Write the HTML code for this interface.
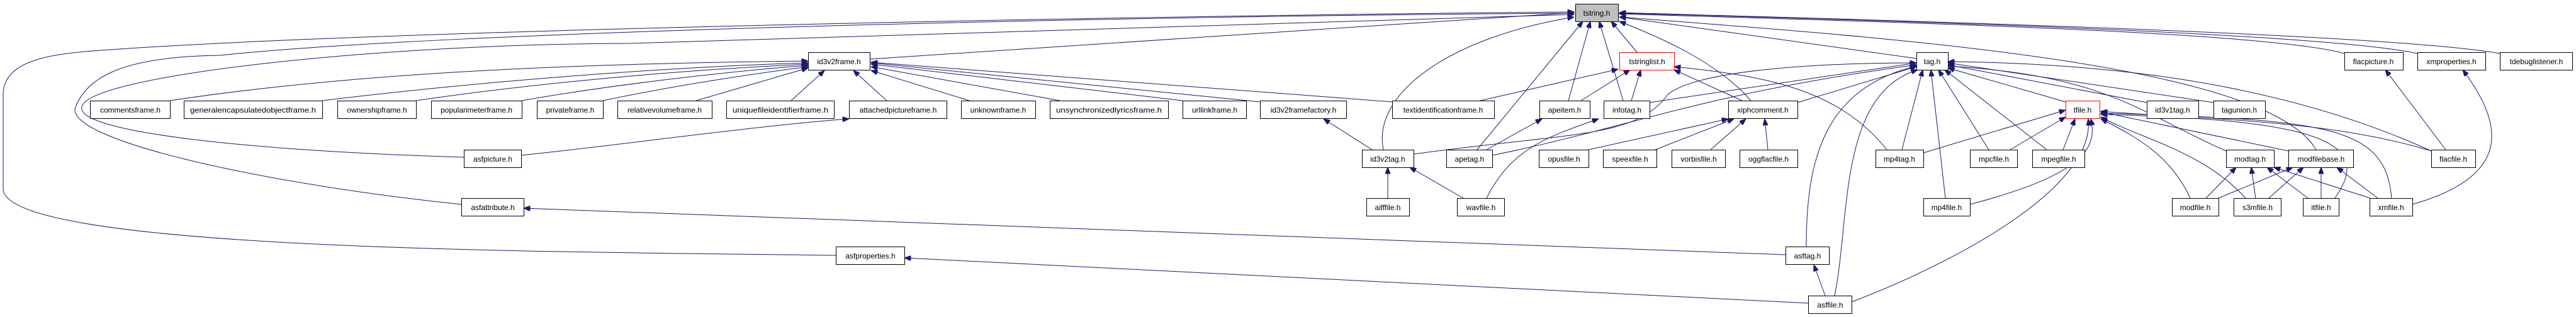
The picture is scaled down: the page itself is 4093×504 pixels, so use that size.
<!DOCTYPE html>
<html><head><meta charset="utf-8"><style>
html,body{margin:0;padding:0;background:#fff}
svg{display:block}
text{font-family:"Liberation Sans",sans-serif;font-size:12px;fill:#000}
</style></head><body>
<svg width="4093" height="504" viewBox="0 0 4093 504" xmlns="http://www.w3.org/2000/svg">
<defs>
<marker id="a" viewBox="0 0 10 8" refX="10" refY="4" markerWidth="11" markerHeight="8" markerUnits="userSpaceOnUse" orient="auto">
<path d="M0,0 L10,4 L0,8 z" fill="#191970" stroke="#191970"/>
</marker>
</defs>
<g fill="none" stroke="#191970" stroke-width="1" marker-end="url(#a)">
<path d="M270,160 C600,110 1000,100 1284,97"/>
<path d="M512,160 C800,125 1100,105 1284,100"/>
<path d="M661,160 C900,125 1150,108 1284,102"/>
<path d="M829,160 C1000,130 1200,110 1284,104"/>
<path d="M958,160 C1100,130 1240,112 1284,106"/>
<path d="M1106,160 L1284,108"/>
<path d="M1257,160 L1310,112"/>
<path d="M1409,160 L1356,112"/>
<path d="M1540,160 L1384,112"/>
<path d="M1684,160 L1384,106"/>
<path d="M1879,160 L1384,102"/>
<path d="M2002,162 L1384,100"/>
<path d="M2212,162 L1384,99"/>
<path d="M1382,94 L2501,20"/>
<path d="M1328,406 C900,400 5,400 5,300 L5,150 C5,90 100,85 160,80 C600,48 1800,25 2501,19"/>
<path d="M733,325 C400,290 100,220 120,170 C140,120 200,90 350,88 C700,50 1800,25 2501,21"/>
<path d="M737,250 C400,240 120,210 130,170 C140,120 600,70 1000,69 C1500,55 2200,30 2501,23"/>
<path d="M828,247 C1000,229 1200,200 1349,189"/>
<path d="M2837,405 L832,331"/>
<path d="M2873,482 L1437,410"/>
<path d="M2870,392 C2870,250 2900,140 3045,105"/>
<path d="M2900,470 L2882,421"/>
<path d="M2915,470 C2940,350 2920,150 3047,111"/>
<path d="M2942,480 C3100,420 3330,300 3318,189"/>
<path d="M2601,83 L2560,34"/>
<path d="M2198,238 C2180,150 2300,60 2501,27"/>
<path d="M2347,238 L2515,34"/>
<path d="M2492,160 L2527,34"/>
<path d="M2579,160 L2541,34"/>
<path d="M2782,160 C2730,100 2640,60 2573,34"/>
<path d="M3045,93 L2573,27"/>
<path d="M3725,85 C3600,50 3000,35 2573,22"/>
<path d="M3841,85 C3700,55 3100,35 2573,21"/>
<path d="M3972,85 C3800,55 3100,35 2573,20"/>
<path d="M3680,238 C3600,100 3000,60 2573,27"/>
<path d="M2352,160 L2571,110"/>
<path d="M2512,160 L2590,111"/>
<path d="M2592,160 L2607,111"/>
<path d="M2768,160 L2660,111"/>
<path d="M2998,238 C2920,140 2800,120 2660,106"/>
<path d="M2180,238 L2103,189"/>
<path d="M2205,315 L2205,266"/>
<path d="M2325,315 L2240,266"/>
<path d="M2362,315 C2400,240 2450,220 2540,189"/>
<path d="M2362,238 L2450,189"/>
<path d="M2524,238 L2746,189"/>
<path d="M2630,238 L2755,189"/>
<path d="M2718,238 L2774,189"/>
<path d="M2809,238 L2804,189"/>
<path d="M2371,247 C2600,200 2700,150 3045,103"/>
<path d="M2246,245 C2500,210 2600,220 2650,150 C2700,110 2900,100 3045,100"/>
<path d="M2621,163 L3045,100"/>
<path d="M2856,163 L3045,106"/>
<path d="M3022,238 L3055,111"/>
<path d="M3091,315 L3068,111"/>
<path d="M3160,238 L3080,111"/>
<path d="M3252,238 L3090,111"/>
<path d="M3282,162 L3095,108"/>
<path d="M3411,163 L3095,103"/>
<path d="M3517,163 L3095,100"/>
<path d="M3537,240 C3400,180 3350,120 3095,105"/>
<path d="M3863,240 C3600,120 3300,100 3095,98"/>
<path d="M3056,243 L3282,175"/>
<path d="M3194,238 L3282,186"/>
<path d="M3278,238 L3297,189"/>
<path d="M3130,325 C3300,280 3335,240 3322,189"/>
<path d="M3480,315 C3450,250 3400,220 3338,189"/>
<path d="M3568,315 C3500,240 3400,220 3338,186"/>
<path d="M3710,315 C3770,230 3700,190 3338,182"/>
<path d="M3800,315 C3790,200 3700,190 3338,180"/>
<path d="M3636,240 L3338,178"/>
<path d="M3863,240 C3700,190 3500,190 3338,177"/>
<path d="M3505,315 L3553,266"/>
<path d="M3584,315 L3577,266"/>
<path d="M3667,315 L3602,266"/>
<path d="M3766,315 L3613,266"/>
<path d="M3525,315 L3643,266"/>
<path d="M3605,315 L3660,266"/>
<path d="M3688,315 L3688,266"/>
<path d="M3778,315 L3713,266"/>
<path d="M3886,238 L3790,111"/>
<path d="M3833,325 C3990,280 3980,200 3913,111"/>
</g>
<g stroke="#000" stroke-width="1">
<rect x="2503.5" y="6.5" width="68" height="28" fill="#bfbfbf"/>
<rect x="2573.5" y="83.5" width="87" height="28" fill="#fff" stroke="#f00"/>
<rect x="3282.5" y="160.5" width="54" height="28" fill="#fff" stroke="#f00"/>
<g fill="#fff">
<rect x="1284.5" y="83.5" width="98" height="28"/>
<rect x="3045.5" y="83.5" width="50" height="28"/>
<rect x="3725.5" y="83.5" width="93" height="28"/>
<rect x="3841.5" y="83.5" width="108" height="28"/>
<rect x="3972.5" y="83.5" width="115" height="28"/>
<rect x="143.5" y="160.5" width="127" height="28"/>
<rect x="292.5" y="160.5" width="220" height="28"/>
<rect x="536.5" y="160.5" width="125" height="28"/>
<rect x="685.5" y="160.5" width="144" height="28"/>
<rect x="853.5" y="160.5" width="105" height="28"/>
<rect x="981.5" y="160.5" width="150" height="28"/>
<rect x="1154.5" y="160.5" width="171" height="28"/>
<rect x="1349.5" y="160.5" width="155" height="28"/>
<rect x="1527.5" y="160.5" width="118" height="28"/>
<rect x="1668.5" y="160.5" width="188" height="28"/>
<rect x="1879.5" y="160.5" width="101" height="28"/>
<rect x="2002.5" y="160.5" width="137" height="28"/>
<rect x="2212.5" y="160.5" width="162" height="28"/>
<rect x="2446.5" y="160.5" width="80" height="28"/>
<rect x="2548.5" y="160.5" width="73" height="28"/>
<rect x="2746.5" y="160.5" width="110" height="28"/>
<rect x="3411.5" y="160.5" width="82" height="28"/>
<rect x="3517.5" y="160.5" width="82" height="28"/>
<rect x="737.5" y="238.5" width="91" height="28"/>
<rect x="2164.5" y="238.5" width="82" height="28"/>
<rect x="2298.5" y="238.5" width="73" height="28"/>
<rect x="2445.5" y="238.5" width="79" height="28"/>
<rect x="2547.5" y="238.5" width="85" height="28"/>
<rect x="2656.5" y="238.5" width="85" height="28"/>
<rect x="2764.5" y="238.5" width="92" height="28"/>
<rect x="2980.5" y="238.5" width="76" height="28"/>
<rect x="3130.5" y="238.5" width="75" height="28"/>
<rect x="3229.5" y="238.5" width="83" height="28"/>
<rect x="3537.5" y="238.5" width="76" height="28"/>
<rect x="3636.5" y="238.5" width="103" height="28"/>
<rect x="3863.5" y="238.5" width="70" height="28"/>
<rect x="733.5" y="315.5" width="99" height="28"/>
<rect x="2171.5" y="315.5" width="68" height="28"/>
<rect x="2315.5" y="315.5" width="75" height="28"/>
<rect x="3056.5" y="315.5" width="74" height="28"/>
<rect x="3451.5" y="315.5" width="74" height="28"/>
<rect x="3549.5" y="315.5" width="75" height="28"/>
<rect x="3659.5" y="315.5" width="57" height="28"/>
<rect x="3765.5" y="315.5" width="68" height="28"/>
<rect x="1328.5" y="392.5" width="109" height="28"/>
<rect x="2837.5" y="392.5" width="69" height="28"/>
<rect x="2873.5" y="470.5" width="69" height="28"/>
</g>
</g>
<g text-anchor="middle">
<text x="2537" y="25">tstring.h</text>
<text x="2617" y="102">tstringlist.h</text>
<text x="3309" y="179">tfile.h</text>
<text x="1333" y="102">id3v2frame.h</text>
<text x="3070" y="102">tag.h</text>
<text x="3771" y="102">flacpicture.h</text>
<text x="3895" y="102">xmproperties.h</text>
<text x="4030" y="102">tdebuglistener.h</text>
<text x="207" y="179">commentsframe.h</text>
<text x="402" y="179" textLength="200" lengthAdjust="spacingAndGlyphs">generalencapsulatedobjectframe.h</text>
<text x="599" y="179">ownershipframe.h</text>
<text x="757" y="179">popularimeterframe.h</text>
<text x="906" y="179">privateframe.h</text>
<text x="1056" y="179">relativevolumeframe.h</text>
<text x="1240" y="179" textLength="152" lengthAdjust="spacingAndGlyphs">uniquefileidentifierframe.h</text>
<text x="1427" y="179">attachedpictureframe.h</text>
<text x="1586" y="179">unknownframe.h</text>
<text x="1762" y="179" textLength="168" lengthAdjust="spacingAndGlyphs">unsynchronizedlyricsframe.h</text>
<text x="1930" y="179">urllinkframe.h</text>
<text x="2071" y="179">id3v2framefactory.h</text>
<text x="2293" y="179">textidentificationframe.h</text>
<text x="2486" y="179">apeitem.h</text>
<text x="2585" y="179">infotag.h</text>
<text x="2801" y="179">xiphcomment.h</text>
<text x="3452" y="179">id3v1tag.h</text>
<text x="3558" y="179">tagunion.h</text>
<text x="783" y="257">asfpicture.h</text>
<text x="2205" y="257">id3v2tag.h</text>
<text x="2335" y="257">apetag.h</text>
<text x="2485" y="257">opusfile.h</text>
<text x="2590" y="257">speexfile.h</text>
<text x="2699" y="257">vorbisfile.h</text>
<text x="2810" y="257">oggflacfile.h</text>
<text x="3018" y="257">mp4tag.h</text>
<text x="3168" y="257">mpcfile.h</text>
<text x="3271" y="257">mpegfile.h</text>
<text x="3575" y="257">modtag.h</text>
<text x="3688" y="257">modfilebase.h</text>
<text x="3898" y="257">flacfile.h</text>
<text x="783" y="334">asfattribute.h</text>
<text x="2205" y="334">aifffile.h</text>
<text x="2353" y="334">wavfile.h</text>
<text x="3093" y="334">mp4file.h</text>
<text x="3488" y="334">modfile.h</text>
<text x="3587" y="334">s3mfile.h</text>
<text x="3688" y="334">itfile.h</text>
<text x="3799" y="334">xmfile.h</text>
<text x="1383" y="411">asfproperties.h</text>
<text x="2872" y="411">asftag.h</text>
<text x="2908" y="489">asffile.h</text>
</g>
</svg>
</body></html>
